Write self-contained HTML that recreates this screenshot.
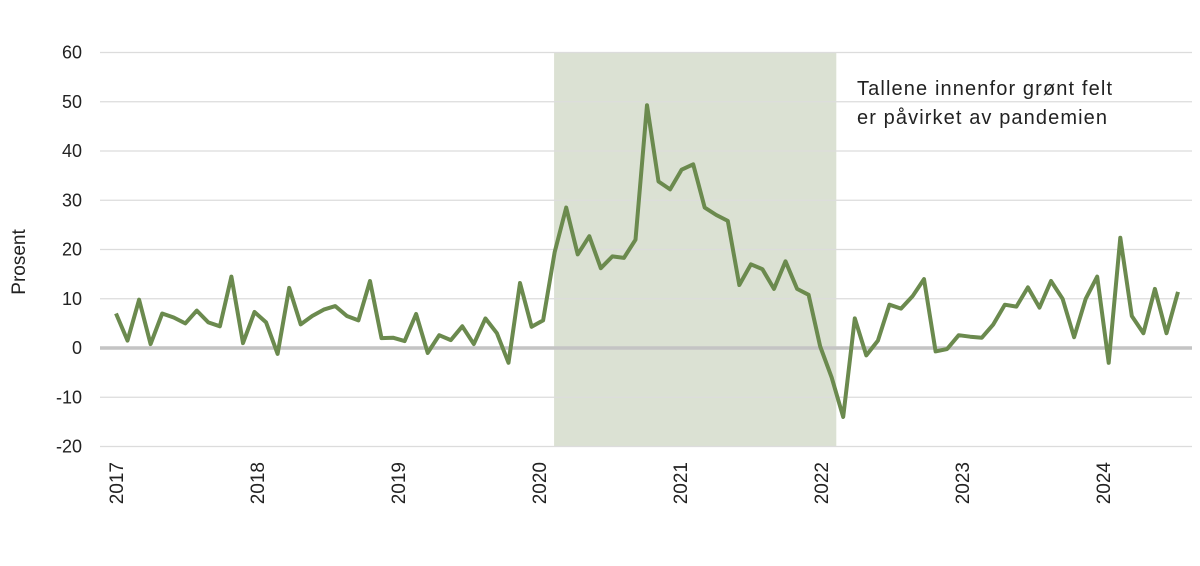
<!DOCTYPE html>
<html><head><meta charset="utf-8"><style>
body{margin:0;background:#fff;}
svg{display:block;font-family:"Liberation Sans",sans-serif;}
</style></head><body>
<svg id="chart" width="1200" height="566" viewBox="0 0 1200 566" xmlns="http://www.w3.org/2000/svg">
<rect id="shade" fill="#dbe1d3"/>
<g id="grid"></g>
<g id="ylabels"></g>
<g id="xlabels"></g>
<path id="line" fill="none" stroke="#6b8a4e" stroke-width="4" stroke-linejoin="round"/>
<text transform="translate(25,262) rotate(-90)" text-anchor="middle" font-size="19" fill="#222">Prosent</text>
<text x="857" y="95" font-size="20" fill="#222" textLength="255">Tallene innenfor grønt felt</text>
<text x="857" y="124" font-size="20" fill="#222" textLength="250">er påvirket av pandemien</text>
</svg>
<script>
const values=[7,1.5,9.8,0.8,7,6.2,5,7.6,5.2,4.4,14.5,1,
7.3,5.2,-1.2,12.2,4.8,6.5,7.8,8.5,6.5,5.6,13.6,2,
2.1,1.4,6.9,-1,2.6,1.6,4.4,0.8,6,3,-3,13.2,
4.3,5.6,19.5,28.5,19,22.7,16.2,18.6,18.3,22,49.3,33.8,
32.2,36.2,37.3,28.5,27,25.8,12.8,17,16,12,17.6,12,
10.8,0.3,-6,-14,6,-1.5,1.5,8.8,8,10.5,14,-0.7,
-0.2,2.6,2.3,2.1,4.8,8.8,8.4,12.3,8.2,13.6,10,2.2,
10,14.5,-3,22.4,6.5,3,12,3,11.4];
const yTicks=[60,50,40,30,20,10,0,-10,-20];
const yearLabels=["2017","2018","2019","2020","2021","2022","2023","2024"];
const shadeRange=[37.95,62.4];
const NS="http://www.w3.org/2000/svg";
const step=(1178-116)/(values.length-1);
const xS=i=>116+i*step;
const xYear=k=>116+k*141;
const yS=v=>348-v*4.925;
const grid=document.getElementById('grid'),yl=document.getElementById('ylabels'),xl=document.getElementById('xlabels');
const sh=document.getElementById('shade');
sh.setAttribute('x',xS(shadeRange[0]));sh.setAttribute('width',xS(shadeRange[1])-xS(shadeRange[0]));
sh.setAttribute('y',yS(60));sh.setAttribute('height',yS(-20)-yS(60));
yTicks.forEach(t=>{
 const l=document.createElementNS(NS,'line');
 
 
 l.setAttribute('x1',100);l.setAttribute('x2',1192);l.setAttribute('y1',yS(t));l.setAttribute('y2',yS(t));
 l.setAttribute('stroke',t===0?'#c4c4c4':'#dcdcdc');l.setAttribute('stroke-width',t===0?3.5:1.3);
 grid.appendChild(l);
 const tx=document.createElementNS(NS,'text');
 
 
 tx.setAttribute('x',82);tx.setAttribute('y',yS(t)+6);tx.setAttribute('text-anchor','end');
 tx.setAttribute('font-size','18');tx.setAttribute('fill','#222');tx.textContent=t;
 yl.appendChild(tx);
});
yearLabels.forEach((y,i)=>{
 const tx=document.createElementNS(NS,'text');
 
 
 const x=xYear(i)+7;
 tx.setAttribute('transform','translate('+x+',462) rotate(-90)');
 tx.setAttribute('text-anchor','end');tx.setAttribute('font-size','19');tx.setAttribute('fill','#222');
 tx.textContent=y;xl.appendChild(tx);
});
document.getElementById('line').setAttribute('d',values.map((v,i)=>(i?'L':'M')+xS(i).toFixed(1)+','+yS(v).toFixed(1)).join(''));
</script>
</body></html>
